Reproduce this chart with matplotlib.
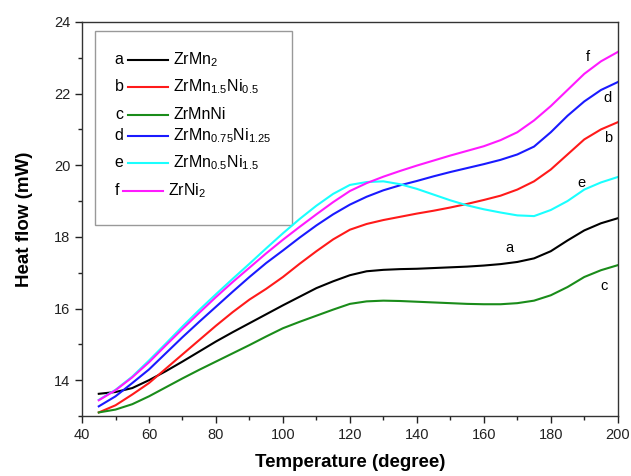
import matplotlib
matplotlib.use("Agg")
import matplotlib.pyplot as plt
from matplotlib.ticker import MultipleLocator

plt.rcParams['font.family'] = ['Liberation Sans', 'DejaVu Sans']
plt.rcParams['mathtext.default'] = 'regular'

temperature = [45, 50, 55, 60, 65, 70, 75, 80, 85, 90, 95, 100, 105, 110, 115, 120, 125, 130,
               135, 140, 145, 150, 155, 160, 165, 170, 175, 180, 185, 190, 195, 200]

zrmn2 = [13.62, 13.67, 13.78, 14.00, 14.25, 14.52, 14.80, 15.08, 15.34, 15.59, 15.84, 16.09, 16.33, 16.57, 16.76, 16.93, 17.04, 17.08,
         17.10, 17.11, 17.13, 17.15, 17.17, 17.20, 17.24, 17.30, 17.40, 17.60, 17.90, 18.18, 18.38, 18.52]
zrmn15ni05 = [13.10, 13.30, 13.60, 13.92, 14.32, 14.72, 15.12, 15.52, 15.90, 16.25, 16.55, 16.88, 17.25, 17.60, 17.93, 18.20, 18.36, 18.47,
              18.56, 18.65, 18.73, 18.82, 18.92, 19.03, 19.15, 19.32, 19.55, 19.88, 20.30, 20.72, 21.00, 21.20]
zrmnni = [13.10, 13.18, 13.33, 13.55, 13.80, 14.05, 14.29, 14.52, 14.75, 14.98, 15.22, 15.45, 15.63, 15.80, 15.97, 16.13, 16.20, 16.22,
          16.21, 16.19, 16.17, 16.15, 16.13, 16.12, 16.12, 16.15, 16.22, 16.37, 16.60, 16.88, 17.07, 17.21]
zrmn075ni125 = [13.27, 13.55, 13.92, 14.30, 14.75, 15.20, 15.63, 16.05, 16.47, 16.88, 17.27, 17.62, 17.98, 18.32, 18.63, 18.90, 19.12, 19.30,
                19.44, 19.56, 19.69, 19.81, 19.92, 20.03, 20.15, 20.30, 20.52, 20.92, 21.38, 21.78, 22.10, 22.32]
zrmn05ni15 = [13.45, 13.73, 14.10, 14.55, 15.02, 15.50, 15.96, 16.40, 16.83, 17.25, 17.68, 18.10, 18.50, 18.87, 19.20, 19.45, 19.53, 19.55,
              19.47, 19.34, 19.18, 19.02, 18.88, 18.77, 18.68, 18.60, 18.58, 18.75, 19.00, 19.32, 19.52, 19.67]
zrni2 = [13.44, 13.72, 14.08, 14.50, 14.97, 15.43, 15.88, 16.32, 16.74, 17.14, 17.54, 17.92, 18.28, 18.63, 18.97, 19.28, 19.50, 19.68,
         19.84, 19.99, 20.13, 20.27, 20.40, 20.53, 20.70, 20.92, 21.25, 21.65, 22.10, 22.55, 22.90, 23.16]

series = [zrmn2, zrmn15ni05, zrmnni, zrmn075ni125, zrmn05ni15, zrni2]
letters = ['a', 'b', 'c', 'd', 'e', 'f']
names = ['ZrMn$_2$', 'ZrMn$_{1.5}$Ni$_{0.5}$', 'ZrMnNi', 'ZrMn$_{0.75}$Ni$_{1.25}$',
         'ZrMn$_{0.5}$Ni$_{1.5}$', 'ZrNi$_2$']
colors = ['#000000', '#ff1a1a', '#1a8c1a', '#1a1aff', '#1affff', '#ff1aff']

label_T = [167.8, 197, 196, 197, 189.3, 191]
label_v = [17.7, 20.76, 16.63, 21.88, 19.5, 23.02]

fig = plt.figure(figsize=(6.31, 4.76), dpi=100)
ax = fig.add_axes([0.130, 0.126, 0.849, 0.828])

for vals, col in zip(series, colors):
    ax.plot(temperature, vals, color=col, lw=1.5)

for L, tx, vy in zip(letters, label_T, label_v):
    ax.text(tx, vy, L, fontsize=10.5, ha='center', va='center')

ax.set_xlim(40, 200)
ax.set_ylim(13, 24)
ax.xaxis.set_major_locator(MultipleLocator(20))
ax.xaxis.set_minor_locator(MultipleLocator(10))
ax.yaxis.set_major_locator(MultipleLocator(2))
ax.yaxis.set_minor_locator(MultipleLocator(1))
ax.tick_params(which='both', direction='out', top=False, right=False, labelsize=10.5, colors='#222222')
ax.tick_params(which='major', length=5, width=1)
ax.tick_params(which='minor', length=3, width=1)
for s in ax.spines.values():
    s.set_linewidth(1.0)
    s.set_color('#333333')

ax.set_xlabel('Temperature (degree)', fontsize=13.5, fontweight='bold', labelpad=9)
ax.set_ylabel('Heat flow (mW)', fontsize=13.5, fontweight='bold', labelpad=15)

# legend box
box = plt.Rectangle((0.024, 0.485), 0.368, 0.492, transform=ax.transAxes,
                    fill=False, edgecolor='#999999', lw=1.0)
ax.add_patch(box)
rows = [0.904, 0.835, 0.764, 0.711, 0.642, 0.571]
for i, (L, nm, col, yy) in enumerate(zip(letters, names, colors, rows)):
    if L == 'f':
        lx0, lx1, tx, cx = 0.076, 0.151, 0.160, 0.066
    else:
        lx0, lx1, tx, cx = 0.086, 0.160, 0.170, 0.069
    ax.plot([lx0, lx1], [yy, yy], color=col, lw=1.5, transform=ax.transAxes)
    ax.text(cx, yy, L, fontsize=11.5, ha='center', va='center', transform=ax.transAxes)
    ax.text(tx, yy, nm, fontsize=11.5, ha='left', va='center', transform=ax.transAxes)

fig.savefig('out.png', dpi=100)
